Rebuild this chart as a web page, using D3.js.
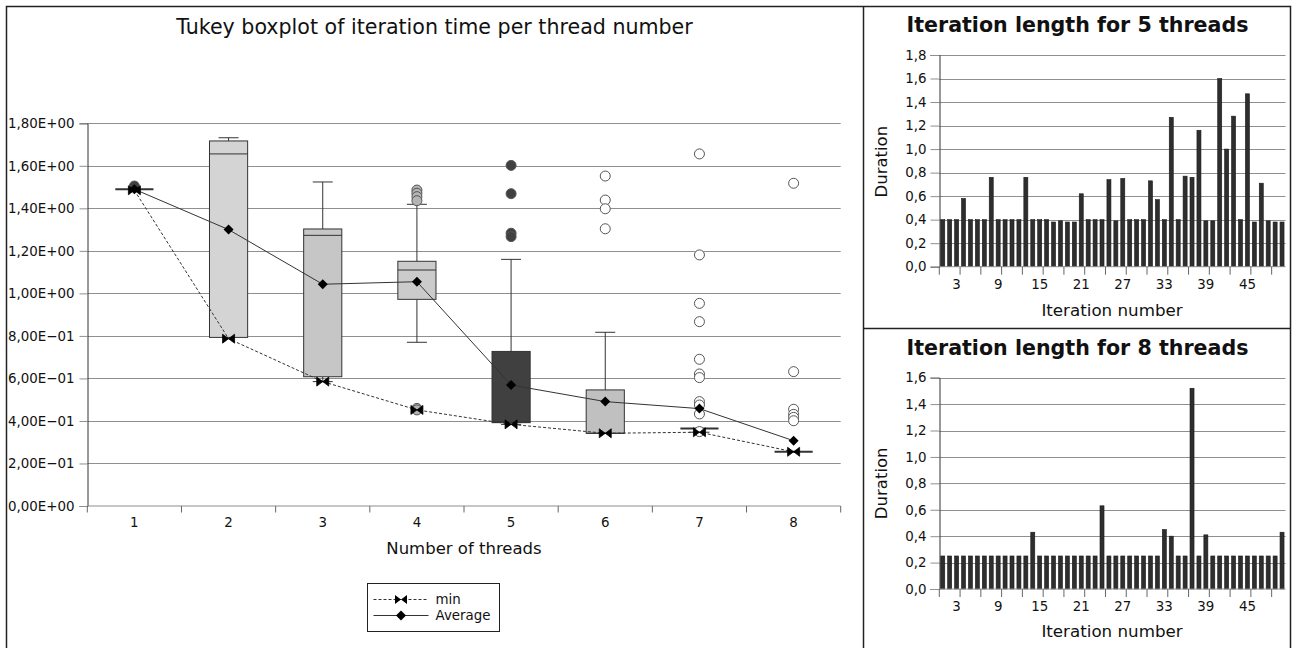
<!DOCTYPE html>
<html>
<head>
<meta charset="utf-8">
<script src="https://cdn.jsdelivr.net/npm/d3@7"></script>
<style>
  html, body { margin: 0; padding: 0; background: #fff; }
  svg { display: block; font-family: "DejaVu Sans", sans-serif; }
</style>
</head>
<body>
<svg id="chart" width="1292" height="648"></svg>
<script>
// ---- Boxplot data: iteration time per thread count ----
const threads     = [1, 2, 3, 4, 5, 6, 7, 8];
const whiskerLow  = [1.490, 0.790, 0.585, 0.770, 0.384, 0.342, 0.347, 0.255];
const quartile1   = [1.490, 0.793, 0.608, 0.972, 0.392, 0.342, 0.365, 0.255];
const medianTime  = [1.490, 1.656, 1.273, 1.110, 0.395, 0.342, 0.365, 0.255];
const quartile3   = [1.490, 1.717, 1.303, 1.151, 0.727, 0.546, 0.365, 0.255];
const whiskerHigh = [1.490, 1.732, 1.524, 1.419, 1.160, 0.817, 0.365, 0.255];
const outliers = [
  [1.505],
  [],
  [],
  [1.486, 1.471, 1.455, 1.436, 0.459, 0.452],
  [1.602, 1.469, 1.283, 1.267],
  [1.552, 1.439, 1.398, 1.304],
  [1.656, 1.181, 0.953, 0.867, 0.690, 0.621, 0.604, 0.491, 0.475, 0.433, 0.350],
  [1.518, 0.632, 0.455, 0.431, 0.417, 0.401]
];
const minTime = [1.485, 0.787, 0.585, 0.452, 0.384, 0.342, 0.347, 0.255];
const avgTime = [1.490, 1.300, 1.043, 1.055, 0.569, 0.491, 0.458, 0.307];
const boxTicks = [0, 0.2, 0.4, 0.6, 0.8, 1.0, 1.2, 1.4, 1.6, 1.8];

// ---- Per-iteration durations ----
const iterations = d3.range(1, 51);
const duration5 = [
  0.40, 0.40, 0.40, 0.58, 0.40, 0.40, 0.40, 0.76, 0.40, 0.40,
  0.40, 0.40, 0.76, 0.40, 0.40, 0.40, 0.38, 0.39, 0.38, 0.38,
  0.62, 0.40, 0.40, 0.40, 0.74, 0.39, 0.75, 0.40, 0.40, 0.40,
  0.73, 0.57, 0.40, 1.27, 0.40, 0.77, 0.76, 1.16, 0.39, 0.39,
  1.60, 1.00, 1.28, 0.40, 1.47, 0.38, 0.71, 0.39, 0.38, 0.38
];
const duration8 = [
  0.25, 0.25, 0.25, 0.25, 0.25, 0.25, 0.25, 0.25, 0.25, 0.25,
  0.25, 0.25, 0.25, 0.43, 0.25, 0.25, 0.25, 0.25, 0.25, 0.25,
  0.25, 0.25, 0.25, 0.63, 0.25, 0.25, 0.25, 0.25, 0.25, 0.25,
  0.25, 0.25, 0.45, 0.40, 0.25, 0.25, 1.52, 0.25, 0.41, 0.25,
  0.25, 0.25, 0.25, 0.25, 0.25, 0.25, 0.25, 0.25, 0.25, 0.43
];
const iterLabels = [3, 9, 15, 21, 27, 33, 39, 45];
const ticks5 = [0, 0.2, 0.4, 0.6, 0.8, 1.0, 1.2, 1.4, 1.6, 1.8];
const ticks8 = [0, 0.2, 0.4, 0.6, 0.8, 1.0, 1.2, 1.4, 1.6];

// ---- Styling ----
const boxFills     = ["#d0d0d0", "#d4d4d4", "#c6c6c6", "#cbcbcb", "#404040", "#c0c0c0", "#c0c0c0", "#c0c0c0"];
const outlierFills = ["#404040", "#ffffff", "#ffffff", "#b4b4b4", "#404040", "#ffffff", "#ffffff", "#ffffff"];
const gridColor = "#8f8f8f";
const inkColor = "#333";

const svg = d3.select("#chart");

// Frame and panel separators
const frame = svg.append("g").attr("stroke", "#222").attr("stroke-width", 1.5).attr("fill", "none");
frame.append("path").attr("d", "M6.5,648 V6.5 H1290.5 V648");
frame.append("path").attr("d", "M863.5,6.5 V648");
frame.append("path").attr("d", "M863.5,328.5 H1290.5");

// Number formatting helpers
const sciFormat = v => {
  if (v === 0) return "0,00E+00";
  const e = Math.floor(Math.log10(v) + 1e-9);
  const m = v / Math.pow(10, e);
  const exp = (e < 0 ? "\u2212" : "+") + String(Math.abs(e)).padStart(2, "0");
  return m.toFixed(2).replace(".", ",") + "E" + exp;
};
const commaFormat = v => v.toFixed(1).replace(".", ",");

// Marker shapes
const bowtie = "M-6,-4.5 L0,0 L-6,4.5 Z M6,-4.5 L0,0 L6,4.5 Z";
const diamond = "M0,-5 L5,0 L0,5 L-5,0 Z";

// ================= Boxplot panel =================
const bx = d3.scaleBand().domain(threads).range([87.3, 840.7]);
const by = d3.scaleLinear().domain([0, 1.8]).range([506, 123.3]);
const boxW = bx.bandwidth() * 0.405;
const capW = 20;

const bp = svg.append("g");

bp.append("text")
  .attr("x", 434.5).attr("y", 34)
  .attr("text-anchor", "middle")
  .attr("font-size", 20.6).attr("fill", "#111")
  .text("Tukey boxplot of iteration time per thread number");

// gridlines
bp.append("g").selectAll("line").data(boxTicks.slice(1)).join("line")
  .attr("x1", 87.3).attr("x2", 840.7)
  .attr("y1", d => Math.round(by(d)) + 0.5).attr("y2", d => Math.round(by(d)) + 0.5)
  .attr("stroke", gridColor).attr("stroke-width", 1);

// y axis
const yAxisL = bp.append("g").attr("transform", "translate(87.5,0)")
  .call(d3.axisLeft(by).tickValues(boxTicks).tickFormat(sciFormat).tickSize(8).tickPadding(5));
yAxisL.select(".domain").attr("stroke", inkColor);
yAxisL.selectAll(".tick line").attr("stroke", gridColor);
yAxisL.selectAll("text").attr("font-size", 13.4).attr("fill", "#111").attr("font-family", "DejaVu Sans");

// x axis with ticks on band boundaries
const xAxisL = bp.append("g").attr("transform", `translate(0,${by(0)})`);
xAxisL.append("line").attr("x1", 87.3).attr("x2", 840.7).attr("stroke", gridColor);
xAxisL.selectAll("line.tk").data(d3.range(threads.length + 1)).join("line")
  .attr("class", "tk")
  .attr("x1", i => 87.3 + i * bx.step()).attr("x2", i => 87.3 + i * bx.step())
  .attr("y1", 0).attr("y2", 6.5).attr("stroke", "#666");
xAxisL.selectAll("text").data(threads).join("text")
  .attr("x", d => bx(d) + bx.bandwidth() / 2).attr("y", 21)
  .attr("text-anchor", "middle").attr("font-size", 13.4).attr("fill", "#111")
  .text(d => d);
bp.append("text")
  .attr("x", 464).attr("y", 554)
  .attr("text-anchor", "middle").attr("font-size", 16.5).attr("fill", "#111")
  .text("Number of threads");

// boxes
const boxes = bp.append("g").selectAll("g").data(threads).join("g")
  .attr("transform", d => `translate(${bx(d) + bx.bandwidth() / 2},0)`);

boxes.each(function (d, i) {
  const g = d3.select(this);
  // whiskers
  if (whiskerHigh[i] > quartile3[i]) {
    g.append("line").attr("x1", 0).attr("x2", 0)
      .attr("y1", by(quartile3[i])).attr("y2", by(whiskerHigh[i])).attr("stroke", inkColor);
    g.append("line").attr("x1", -capW / 2).attr("x2", capW / 2)
      .attr("y1", by(whiskerHigh[i])).attr("y2", by(whiskerHigh[i])).attr("stroke", inkColor);
  }
  if (whiskerLow[i] < quartile1[i] - 0.005) {
    g.append("line").attr("x1", 0).attr("x2", 0)
      .attr("y1", by(quartile1[i])).attr("y2", by(whiskerLow[i])).attr("stroke", inkColor);
    g.append("line").attr("x1", -capW / 2).attr("x2", capW / 2)
      .attr("y1", by(whiskerLow[i])).attr("y2", by(whiskerLow[i])).attr("stroke", inkColor);
  }
  // box
  const top = by(quartile3[i]), bot = by(quartile1[i]);
  if (bot - top > 0.5) {
    g.append("rect")
      .attr("x", -boxW / 2).attr("y", top).attr("width", boxW).attr("height", bot - top)
      .attr("fill", boxFills[i]).attr("stroke", inkColor).attr("stroke-width", 1);
  }
  g.append("line").attr("x1", -boxW / 2).attr("x2", boxW / 2)
    .attr("y1", by(medianTime[i])).attr("y2", by(medianTime[i]))
    .attr("stroke", inkColor).attr("stroke-width", bot - top > 0.5 ? 1 : 2);
  // outliers
  g.selectAll("circle").data(outliers[i]).join("circle")
    .attr("cx", 0).attr("cy", v => by(v)).attr("r", 5)
    .attr("fill", outlierFills[i]).attr("stroke", "#555").attr("stroke-width", 1);
});

// min and average lines
const cx = (d) => bx(d) + bx.bandwidth() / 2;
const seriesLine = d3.line().x((v, i) => cx(threads[i])).y(v => by(v));
bp.append("path").datum(minTime).attr("d", seriesLine)
  .attr("fill", "none").attr("stroke", inkColor).attr("stroke-width", 1).attr("stroke-dasharray", "3,2");
bp.append("path").datum(avgTime).attr("d", seriesLine)
  .attr("fill", "none").attr("stroke", inkColor).attr("stroke-width", 1);

bp.append("g").selectAll("path").data(minTime).join("path")
  .attr("transform", (v, i) => `translate(${cx(threads[i])},${by(v)})`)
  .attr("d", bowtie).attr("fill", "#000").attr("stroke", "#000").attr("stroke-width", 0.8);
bp.append("g").selectAll("path").data(avgTime).join("path")
  .attr("transform", (v, i) => `translate(${cx(threads[i])},${by(v)})`)
  .attr("d", diamond).attr("fill", "#000");

// legend
const lg = bp.append("g").attr("transform", "translate(367.5,583.5)");
lg.append("rect").attr("width", 132).attr("height", 48)
  .attr("fill", "#fff").attr("stroke", "#222").attr("stroke-width", 1);
lg.append("line").attr("x1", 6).attr("x2", 61).attr("y1", 16).attr("y2", 16)
  .attr("stroke", inkColor).attr("stroke-dasharray", "3,2");
lg.append("path").attr("transform", "translate(33.5,16)").attr("d", bowtie).attr("fill", "#000");
lg.append("text").attr("x", 68).attr("y", 20.5).attr("font-size", 13.4).attr("fill", "#111").text("min");
lg.append("line").attr("x1", 6).attr("x2", 61).attr("y1", 32).attr("y2", 32).attr("stroke", inkColor);
lg.append("path").attr("transform", "translate(33.5,32)").attr("d", diamond).attr("fill", "#000");
lg.append("text").attr("x", 68).attr("y", 36.5).attr("font-size", 13.4).attr("fill", "#111").text("Average");

// ================= Iteration bar panels =================
function barPanel(opts) {
  const { values, ticks, yMax, y0, y1, title, titleY, labelY, xTitleY, durY } = opts;
  const x = d3.scaleBand().domain(iterations).range([939.3, 1285.5]).paddingInner(0.42).paddingOuter(0.21);
  const step = (1285.5 - 939.3) / iterations.length;
  const y = d3.scaleLinear().domain([0, yMax]).range([y0, y1]);
  const g = svg.append("g");

  g.append("text").attr("x", 1077.5).attr("y", titleY)
    .attr("text-anchor", "middle").attr("font-size", 20.6).attr("font-weight", "bold").attr("fill", "#111")
    .text(title);

  g.append("g").selectAll("line").data(ticks.slice(1)).join("line")
    .attr("x1", 939.3).attr("x2", 1285.5)
    .attr("y1", d => Math.round(y(d)) + 0.5).attr("y2", d => Math.round(y(d)) + 0.5)
    .attr("stroke", gridColor);

  const ya = g.append("g").attr("transform", "translate(939.5,0)")
    .call(d3.axisLeft(y).tickValues(ticks).tickFormat(commaFormat).tickSize(9).tickPadding(4));
  ya.select(".domain").attr("stroke", inkColor);
  ya.selectAll(".tick line").attr("stroke", gridColor);
  ya.selectAll("text").attr("font-size", 13.4).attr("fill", "#111").attr("font-family", "DejaVu Sans");

  g.append("g").selectAll("rect").data(values).join("rect")
    .attr("x", (v, i) => x(iterations[i])).attr("width", x.bandwidth())
    .attr("y", v => y(v)).attr("height", v => y(0) - y(v))
    .attr("fill", "#2e2e2e").attr("stroke", "#1a1a1a").attr("stroke-width", 0.6);

  const xa = g.append("g").attr("transform", `translate(0,${y0})`);
  xa.append("line").attr("x1", 939.3).attr("x2", 1285.5).attr("stroke", gridColor);
  xa.selectAll("line.tk").data(d3.range(0, iterations.length + 1, 3)).join("line")
    .attr("class", "tk")
    .attr("x1", k => 939.3 + k * step).attr("x2", k => 939.3 + k * step)
    .attr("y1", 0).attr("y2", 8).attr("stroke", "#666");
  xa.selectAll("text").data(iterLabels).join("text")
    .attr("x", d => x(d) + x.bandwidth() / 2).attr("y", labelY - y0)
    .attr("text-anchor", "middle").attr("font-size", 13.4).attr("fill", "#111")
    .text(d => d);

  g.append("text").attr("x", 1112).attr("y", xTitleY)
    .attr("text-anchor", "middle").attr("font-size", 16.7).attr("fill", "#111")
    .text("Iteration number");
  g.append("text")
    .attr("transform", `translate(887,${durY}) rotate(-90)`)
    .attr("text-anchor", "middle").attr("font-size", 16.5).attr("fill", "#111")
    .text("Duration");
}

barPanel({
  values: duration5, ticks: ticks5, yMax: 1.8, y0: 266.7, y1: 55,
  title: "Iteration length for 5 threads", titleY: 32, labelY: 289, xTitleY: 316, durY: 161.7
});
barPanel({
  values: duration8, ticks: ticks8, yMax: 1.6, y0: 589, y1: 377.7,
  title: "Iteration length for 8 threads", titleY: 355, labelY: 611, xTitleY: 637, durY: 483.3
});
</script>
</body>
</html>
